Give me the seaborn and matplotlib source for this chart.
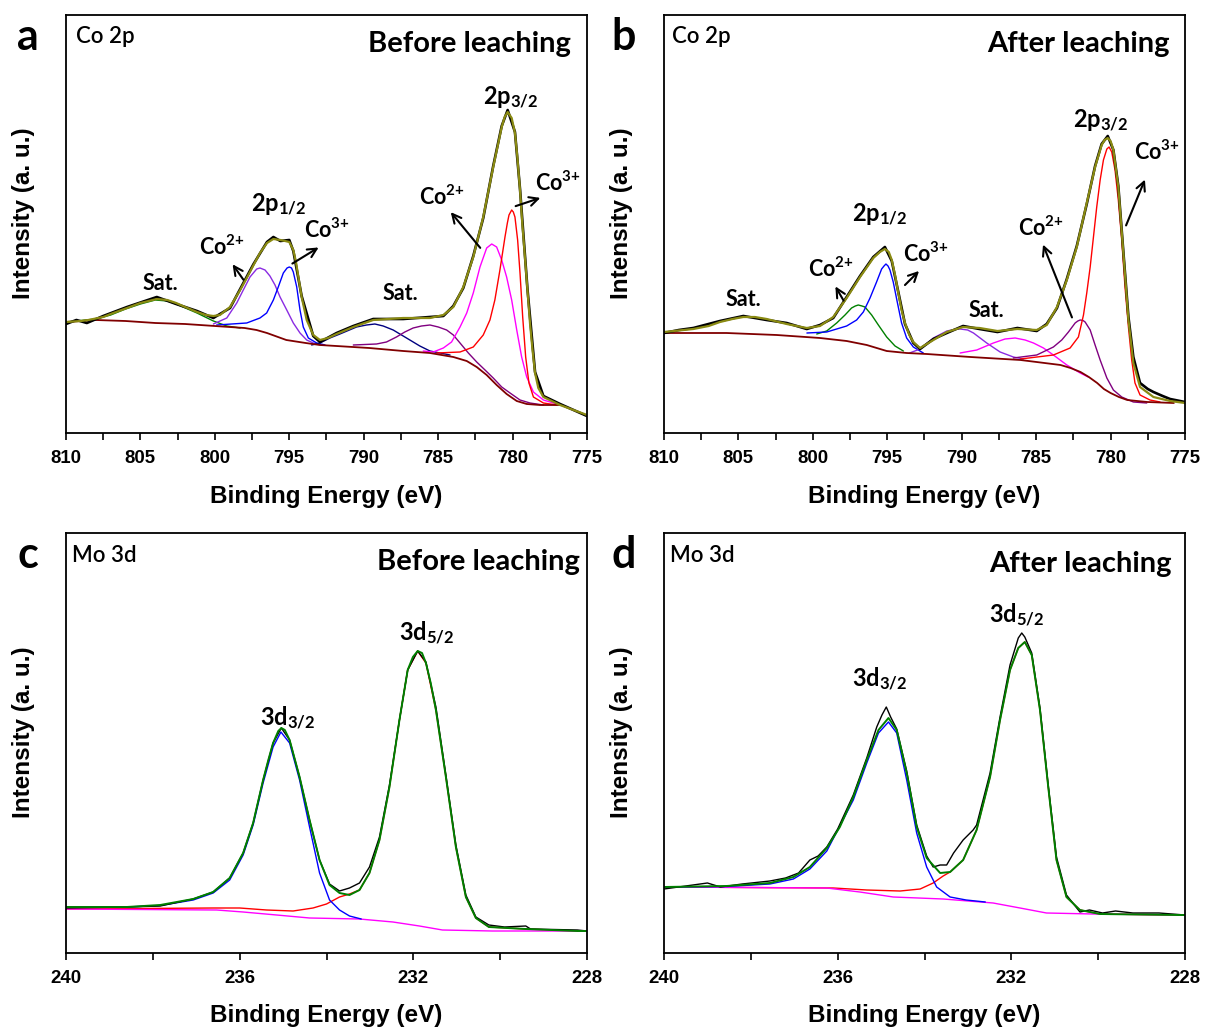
import matplotlib
matplotlib.use("Agg")
import matplotlib.pyplot as plt
import seaborn as sns
from matplotlib.ticker import MultipleLocator

# ================= DATA (arbitrary intensity units) =================
# ---- Panel a : Co 2p, before leaching ----
a_env_E = [810.0, 809.0, 808.5, 807.5, 807.0, 805.9, 805.0, 803.9, 803.2, 802.6, 802.0, 801.2, 800.6, 800.1, 799.66,
           798.98, 798.3, 797.86, 797.4, 796.97, 796.5, 796.07, 795.6, 795.28, 795.0, 794.73, 794.55, 794.39,
           794.17, 793.83, 793.39, 792.94, 792.4, 791.82, 790.7, 789.36, 787.35, 785.55, 784.65, 783.98, 783.31,
           782.64, 781.97, 781.3, 780.73, 780.53, 780.33, 780.06, 779.84, 779.68, 779.5, 779.35, 779.17, 779.0,
           778.83, 778.66, 778.49, 778.27, 777.93, 776.81, 775.0]
a_env_I = [111, 112, 113, 116, 119, 125, 130, 134, 133, 130, 126, 121, 118, 117, 118,
           126, 143, 155, 168, 180, 190, 194, 193, 192, 191, 183, 171, 156,
           136, 113, 98, 93, 95, 99, 106, 113, 115, 115, 118, 126, 146,
           176, 216, 266, 306, 316, 321, 315, 300, 276, 243, 210, 176, 143,
           110, 83, 60, 45, 36, 28, 18]
a_raw_E = [810.0, 809.3, 808.6, 807.5, 805.9, 803.9, 802.6, 801.2, 800.1, 799.66, 798.98, 798.3, 797.4, 796.5,
           796.07, 795.6, 795.0, 794.73, 794.17, 793.39, 792.94, 791.82, 790.7, 789.36, 787.35, 785.55, 784.65,
           783.98, 783.31, 782.64, 781.97, 781.3, 780.73, 780.33, 779.84, 779.5, 779.0, 778.49, 777.93, 776.81, 775.0]
a_raw_I = [109, 113, 110, 117, 126, 136, 129, 122, 115, 119, 125, 144, 169, 191,
           196, 192, 193, 182, 137, 97, 91, 100, 107, 114, 114, 116, 117,
           127, 145, 177, 215, 267, 307, 323, 301, 244, 144, 61, 37, 29, 17]
a_bg_E = [810.0, 808.0, 806.0, 804.0, 802.0, 800.0, 798.0, 797.2, 796.5, 795.2, 793.9, 792.94, 789.63, 787.35,
          785.55, 783.98, 783.08, 782.41, 781.74, 781.07, 780.4, 779.72, 779.05, 778.16, 776.81]
a_bg_I = [111, 113, 112, 110, 109, 107, 105, 103, 100, 93, 90, 88, 85, 82,
          80, 76, 72, 66, 58, 48, 39, 32, 29, 28, 28]
a_sat1_E = [810.0, 808.0, 807.0, 806.0, 805.0, 804.0, 803.2, 802.6, 801.2, 800.1, 799.2, 798.3]
a_sat1_I = [111, 114, 118, 124, 129, 133, 132, 129, 120, 112, 107, 105]
a_co2_12_E = [800.1, 799.2, 798.53, 798.09, 797.64, 797.19, 796.97, 796.63, 796.3, 795.96, 795.62, 795.17, 794.73,
              794.28, 793.83, 793.39, 792.9]
a_co2_12_I = [109, 115, 130, 143, 156, 164, 165, 163, 157, 148, 136, 123, 110, 100, 93, 90, 88]
a_co3_12_E = [799.88, 797.86, 796.97, 796.52, 796.07, 795.74, 795.4, 795.15, 795.0, 794.85, 794.73, 794.5, 794.28,
              794.06, 793.72, 793.16, 792.6]
a_co3_12_I = [108, 110, 115, 120, 133, 146, 160, 165, 166, 165, 161, 146, 123, 106, 95, 90, 88]
a_sat2_E = [793.5, 792.94, 792.27, 791.6, 790.48, 789.81, 789.25, 788.69, 788.02, 787.46, 786.9, 786.23, 785.55,
            784.88, 784.2]
a_sat2_I = [88, 90, 95, 99, 106, 108, 109, 107, 103, 98, 93, 87, 82, 80, 78]
a_sat3_E = [790.7, 789.14, 788.47, 787.8, 787.24, 786.68, 786.12, 785.55, 784.99, 784.43, 783.98, 783.53, 782.97,
            782.41, 781.85, 781.3, 780.73, 780.17, 779.5, 778.83, 777.93]
a_sat3_I = [88, 89, 91, 96, 101, 105, 107, 108, 106, 103, 98, 90, 80, 71, 63, 55, 46, 40, 33, 30, 28]
a_co2_32_E = [786.0, 785.33, 784.65, 784.1, 783.53, 783.08, 782.64, 782.19, 781.74, 781.4, 781.07, 780.73, 780.4,
              780.06, 779.72, 779.39, 779.05, 778.6, 777.93, 777.03]
a_co2_32_I = [82, 81, 85, 91, 106, 120, 140, 166, 185, 189, 186, 173, 156, 133, 103, 76, 56, 41, 33, 29]
a_co3_32_E = [785.1, 783.53, 782.64, 781.97, 781.52, 781.19, 780.85, 780.51, 780.35, 780.24, 780.06, 779.95, 779.84,
              779.66, 779.5, 779.32, 779.12, 778.9, 778.6, 777.93, 777.03]
a_co3_32_I = [80, 81, 86, 98, 113, 133, 163, 196, 210, 218, 223, 221, 216, 193, 160, 116, 76, 50, 36, 30, 28]

# ---- Panel b : Co 2p, after leaching ----
b_env_E = [810.0, 808.03, 807.0, 806.24, 805.4, 804.67, 803.9, 803.1, 801.76, 800.41, 799.52, 798.63, 797.73, 796.83,
           795.94, 795.5, 795.16, 794.9, 794.7, 794.48, 794.26, 794.04, 793.81, 793.52, 793.25, 792.8, 791.9, 791.0,
           789.91, 788.8, 787.6, 786.26, 784.96, 784.29, 783.6, 782.94, 782.27, 781.6, 781.04, 780.6, 780.4,
           780.19, 780.0, 779.81, 779.48, 779.14, 778.8, 778.47, 778.02, 777.12, 776.0, 775.0]
b_env_I = [101, 104, 107, 111, 114, 116, 116, 114, 109, 105, 107, 116, 135, 156,
           175, 181, 184, 181, 173, 158, 140, 123, 110, 98, 91, 85, 93, 101,
           106, 105, 102, 104, 103, 108, 126, 153, 186, 230, 266, 288, 293,
           295, 292, 283, 246, 180, 113, 70, 46, 36, 32, 30]
b_raw_E = [810.0, 809.0, 808.03, 806.24, 804.67, 803.1, 801.76, 800.41, 799.52, 798.63, 797.73, 796.83, 795.94,
           795.16, 794.7, 794.26, 793.81, 793.25, 792.8, 791.9, 791.0, 789.91, 788.8, 787.6, 786.26, 784.96,
           784.29, 783.6, 782.94, 782.27, 781.6, 781.04, 780.6, 780.19, 779.81, 779.48, 779.14, 778.8, 778.47,
           778.02, 777.5, 777.12, 776.5, 776.0, 775.0]
b_raw_I = [100, 103, 105, 112, 117, 113, 110, 104, 108, 115, 136, 157, 176,
           186, 172, 141, 109, 90, 84, 94, 100, 107, 104, 101, 105, 102,
           109, 125, 154, 187, 229, 267, 289, 297, 283, 247, 181, 116, 76,
           50, 44, 41, 37, 34, 31]
b_bg_E = [810.0, 805.8, 802.43, 799.52, 797.73, 796.38, 795.04, 793.7, 792.35, 789.41, 786.05, 783.36, 782.69,
          782.02, 781.46, 780.9, 780.45, 780.0, 779.44, 778.88, 777.54, 775.75]
b_bg_I = [100, 100, 98, 95, 92, 88, 82, 80, 79, 76, 73, 68, 65, 61, 56, 50, 44, 40, 36, 33, 31, 30]
b_co2_12_E = [799.74, 799.07, 798.4, 797.84, 797.4, 797.15, 796.95, 796.7, 796.5, 796.05, 795.6, 795.04, 794.48,
              793.92]
b_co2_12_I = [99, 102, 110, 118, 125, 127, 128, 127, 126, 118, 108, 96, 87, 82]
b_co3_12_E = [800.4, 799.07, 797.73, 797.06, 796.61, 796.16, 795.72, 795.38, 795.22, 795.09, 794.95, 794.82, 794.6,
              794.33, 794.04, 793.7, 793.25, 792.58]
b_co3_12_I = [100, 101, 107, 113, 121, 135, 151, 164, 167, 169, 167, 163, 151, 131, 110, 95, 86, 80]
b_sat1_E = [793.5, 792.8, 791.9, 791.0, 790.5, 790.11, 789.6, 789.21, 788.32, 787.42, 786.53, 785.86]
b_sat1_I = [80, 84, 95, 102, 103.5, 104, 103, 100, 90, 81, 76, 74]
b_sat2_E = [790.11, 788.99, 787.87, 787.09, 786.41, 785.74, 785.18, 784.51, 783.84, 782.94, 782.04, 781.5]
b_sat2_I = [80, 83, 90, 94, 95, 93, 90, 85, 78, 68, 60, 56]
b_co2_32_E = [786.53, 784.96, 783.84, 783.28, 782.83, 782.38, 782.2, 782.04, 781.85, 781.71, 781.37, 781.04, 780.7,
              780.25, 779.81, 779.25, 778.47, 777.57]
b_co2_32_I = [75, 78, 86, 93, 101, 110, 112, 113, 112.5, 111, 103, 88, 73, 55, 43, 36, 31, 30]
b_co3_32_E = [786.05, 783.84, 782.72, 782.16, 781.82, 781.6, 781.37, 781.15, 780.93, 780.7, 780.48, 780.25, 780.1,
              779.92, 779.7, 779.48, 779.25, 779.03, 778.8, 778.58, 778.36, 778.02, 777.35, 776.68]
b_co3_32_I = [74, 78, 85, 96, 118, 140, 166, 196, 226, 253, 273, 284, 286, 281, 263, 233, 193, 146, 106, 73, 50,
              38, 33, 31]

# ---- Panel c : Mo 3d, before leaching ----
c_env_E = [240.0, 238.6, 237.83, 237.07, 236.61, 236.23, 235.92, 235.69, 235.46, 235.34, 235.23, 235.11, 235.04,
           234.96, 234.85, 234.62, 234.39, 234.16, 233.93, 233.7, 233.47, 233.24, 233.01, 232.78, 232.55, 232.32,
           232.13, 232.01, 231.9, 231.8, 231.71, 231.6, 231.48, 231.25, 231.02, 230.79, 230.56, 230.26, 229.41,
           228.22, 228.0]
c_env_I = [46, 46, 48, 54, 61, 75, 100, 130, 173, 193, 210, 222, 225, 223, 213, 176, 133, 93, 68, 60, 58, 63, 80,
           113, 166, 233, 283, 296, 302, 300, 290, 270, 243, 176, 106, 56, 35, 26, 24, 22, 22]
c_raw_E = [240.0, 238.6, 237.83, 237.07, 236.61, 236.23, 235.92, 235.69, 235.46, 235.23, 235.04, 234.85, 234.62,
           234.39, 234.16, 233.93, 233.7, 233.47, 233.24, 233.01, 232.78, 232.55, 232.32, 232.13, 231.9, 231.71,
           231.48, 231.25, 231.02, 230.79, 230.56, 230.26, 229.9, 229.41, 229.3, 228.22, 228.0]
c_raw_I = [45, 46, 47, 54, 61, 75, 100, 130, 173, 210, 225, 213, 176, 133, 93, 69, 62, 65, 70, 86, 116, 168, 233,
           283, 302, 291, 246, 178, 108, 58, 36, 28, 26, 27, 24, 23, 22]
c_32_E = [240.0, 238.6, 237.83, 237.07, 236.61, 236.23, 235.92, 235.69, 235.46, 235.23, 235.05, 234.85, 234.62,
          234.39, 234.16, 233.93, 233.7, 233.47, 233.2]
c_32_I = [46, 46, 47.5, 53, 60, 73, 98, 128, 170, 206, 221, 210, 173, 126, 80, 53, 43, 37, 34]
c_52_E = [240.0, 236.61, 236.0, 235.38, 234.77, 234.31, 234.0, 233.7, 233.47, 233.24, 233.01, 232.78, 232.55,
          232.32, 232.13, 231.9, 231.71, 231.48, 231.25, 231.02, 230.79, 230.56, 230.26, 229.41, 228.22]
c_52_I = [44, 45, 45, 43, 42, 45, 49, 56, 59, 63, 80, 113, 166, 233, 283, 302, 290, 243, 176, 106, 56, 35, 26, 24,
          22]
c_bg_E = [240.0, 236.53, 235.92, 235.15, 234.39, 233.24, 232.47, 231.86, 231.33, 230.18, 228.0]
c_bg_I = [44, 43, 41, 38, 35, 34, 31, 27, 23, 22, 22]

# ---- Panel d : Mo 3d, after leaching ----
d_env_E = [240.0, 238.56, 237.56, 237.02, 236.64, 236.25, 235.95, 235.64, 235.33, 235.06, 234.83, 234.64, 234.41,
           234.18, 233.95, 233.64, 233.41, 233.11, 232.8, 232.49, 232.26, 232.03, 231.84, 231.69, 231.53, 231.34,
           231.15, 230.96, 230.73, 230.42, 229.96, 228.15, 228.0]
d_env_I = [66, 67, 70, 76, 86, 105, 126, 156, 193, 223, 235, 223, 180, 126, 95, 80, 81, 93, 123, 176, 233, 283,
           305, 311, 298, 243, 166, 93, 56, 43, 39, 38, 38]
d_raw_E = [240.0, 239.5, 239.0, 238.7, 238.2, 237.56, 237.2, 236.9, 236.64, 236.45, 236.25, 236.0, 235.64, 235.33,
           235.1, 234.98, 234.88, 234.78, 234.64, 234.41, 234.18, 233.95, 233.8, 233.64, 233.49, 233.33, 233.11,
           232.88, 232.8, 232.49, 232.26, 232.03, 231.84, 231.76, 231.69, 231.53, 231.34, 231.15, 230.96, 230.73,
           230.42, 230.2, 229.9, 229.6, 229.2, 228.6, 228.0]
d_raw_I = [64, 67, 70, 66, 69, 72, 75, 80, 93, 97, 106, 124, 158, 195, 226, 238, 246, 236, 224, 182, 128, 97, 86,
           88, 88, 100, 113, 123, 128, 180, 236, 288, 315, 320, 316, 300, 245, 168, 96, 58, 41, 43, 40, 42, 40,
           40, 38]
d_32_E = [240.0, 238.56, 237.56, 237.02, 236.64, 236.25, 235.64, 235.33, 235.06, 234.83, 234.64, 234.41, 234.18,
          233.95, 233.72, 233.41, 233.04, 232.6]
d_32_I = [66, 66.5, 69, 74, 84, 102, 153, 190, 220, 231, 220, 173, 120, 86, 66, 56, 53, 51]
d_52_E = [240.0, 236.1, 235.33, 234.56, 234.1, 233.8, 233.57, 233.41, 233.11, 232.8, 232.49, 232.26, 232.03,
          231.84, 231.69, 231.53, 231.34, 231.15, 230.96, 230.73, 230.42, 229.96, 228.15]
d_52_I = [66, 65, 63, 62, 64, 70, 77, 81, 93, 123, 176, 233, 283, 305, 311, 298, 243, 166, 93, 56, 43, 39, 38]
d_bg_E = [240.0, 236.25, 235.49, 234.72, 233.57, 232.42, 231.8, 231.19, 230.11, 228.0]
d_bg_I = [66, 65, 61, 56, 54, 50, 45, 40, 39, 38]

co_ticks = [810, 805, 800, 795, 790, 785, 780, 775]
mo_ticks = [240, 236, 232, 228]

# ================= STYLE =================
sns.set_theme(style="ticks")
plt.rcParams['font.family'] = ['Liberation Sans', 'DejaVu Sans']
plt.rcParams['mathtext.default'] = 'regular'
plt.rcParams['axes.linewidth'] = 1.3

OLIVE = '#8a8a12'
MAROON = '#800000'
ANN = ['Lato', 'DejaVu Sans']

W, H = 1205, 1029
fig = plt.figure(figsize=(W / 100, H / 100), dpi=100)


def make_ax(left, top, bottom):
    return fig.add_axes([left / W, 1 - bottom / H, 521 / W, (bottom - top) / H])


ax_a = make_ax(66, 15, 433)
ax_b = make_ax(664, 15, 433)
ax_c = make_ax(66, 533, 953)
ax_d = make_ax(664, 533, 953)


def curve(ax, E, I, color, lw=1.0):
    sns.lineplot(x=E, y=I, ax=ax, color=color, linewidth=lw, estimator=None, sort=False)


def style_ax(ax, xlim, ylim, minor, ticks, ypos):
    ax.set_xlim(*xlim)
    ax.set_ylim(*ylim)
    ax.set_yticks([])
    ax.set_xticks(ticks)
    ax.xaxis.set_minor_locator(MultipleLocator(minor))
    ax.tick_params(axis='x', which='both', direction='out', length=5, width=1.2, pad=7,
                   labelsize=13.4, colors='black')
    for lab in ax.get_xticklabels():
        lab.set_fontweight('bold')
    for sp in ax.spines.values():
        sp.set_visible(True)
        sp.set_color('black')
        sp.set_linewidth(1.3)
    ax.set_xlabel('Binding Energy (eV)', fontsize=17.5, fontweight='bold', color='black')
    ax.xaxis.set_label_coords(0.5, ypos)
    ax.xaxis.label.set_va('center')
    ax.set_ylabel('Intensity (a. u.)', fontsize=17.5, fontweight='bold', color='black')
    ax.yaxis.set_label_coords(-0.0825, 0.525)
    ax.yaxis.label.set_va('center')


# ---- panel a ----
for E, I, c in [(a_sat1_E, a_sat1_I, 'green'), (a_co2_12_E, a_co2_12_I, '#8a2be2'),
                (a_co3_12_E, a_co3_12_I, 'blue'), (a_sat2_E, a_sat2_I, '#000080'),
                (a_sat3_E, a_sat3_I, '#800080'), (a_co2_32_E, a_co2_32_I, '#ff00ff'),
                (a_co3_32_E, a_co3_32_I, 'red')]:
    curve(ax_a, E, I, c, 1.0)
curve(ax_a, a_bg_E, a_bg_I, MAROON, 1.3)
curve(ax_a, a_raw_E, a_raw_I, 'black', 1.9)
curve(ax_a, a_env_E, a_env_I, OLIVE, 1.6)
style_ax(ax_a, (810, 775), (0, 418), 2.5, co_ticks, -0.153)

# ---- panel b ----
for E, I, c in [(b_co2_12_E, b_co2_12_I, 'green'), (b_co3_12_E, b_co3_12_I, 'blue'),
                (b_sat1_E, b_sat1_I, '#8a2be2'), (b_sat2_E, b_sat2_I, '#ff00ff'),
                (b_co2_32_E, b_co2_32_I, '#800080'), (b_co3_32_E, b_co3_32_I, 'red')]:
    curve(ax_b, E, I, c, 1.0)
curve(ax_b, b_bg_E, b_bg_I, MAROON, 1.3)
curve(ax_b, b_raw_E, b_raw_I, 'black', 1.9)
curve(ax_b, b_env_E, b_env_I, OLIVE, 1.6)
style_ax(ax_b, (810, 775), (0, 418), 2.5, co_ticks, -0.153)

# ---- panel c ----
curve(ax_c, c_52_E, c_52_I, 'red', 1.0)
curve(ax_c, c_bg_E, c_bg_I, '#ff00ff', 1.0)
curve(ax_c, c_32_E, c_32_I, 'blue', 1.0)
curve(ax_c, c_raw_E, c_raw_I, 'black', 1.0)
curve(ax_c, c_env_E, c_env_I, 'green', 1.4)
style_ax(ax_c, (240, 228), (0, 420), 2, mo_ticks, -0.149)

# ---- panel d ----
curve(ax_d, d_52_E, d_52_I, 'red', 1.0)
curve(ax_d, d_bg_E, d_bg_I, '#ff00ff', 1.0)
curve(ax_d, d_32_E, d_32_I, 'blue', 1.0)
curve(ax_d, d_raw_E, d_raw_I, 'black', 1.0)
curve(ax_d, d_env_E, d_env_I, 'green', 1.4)
style_ax(ax_d, (240, 228), (0, 420), 2, mo_ticks, -0.149)


# ================= TEXT =================
def ftext(x, y, s, size, ha='center', weight='bold', family=ANN):
    fig.text(x / W, 1 - y / H, s, ha=ha, va='baseline', fontsize=size, fontweight=weight,
             family=family, color='black')


def arrow(tx, ty, hx, hy):
    fig.add_artist(matplotlib.patches.FancyArrowPatch(
        (tx / W, 1 - ty / H), (hx / W, 1 - hy / H), transform=fig.transFigure,
        arrowstyle='->', mutation_scale=16, lw=1.5, color='black'))


CO2 = 'Co$^{2{+}}$'
CO3 = 'Co$^{3{+}}$'

for x, y, s in [(28, 50, 'a'), (624, 50, 'b'), (28, 568, 'c'), (624, 568, 'd')]:
    ftext(x, y, s, 31)
ftext(76, 43, 'Co 2p', 16, ha='left', weight=600)
ftext(672, 43, 'Co 2p', 16, ha='left', weight=600)
ftext(72, 562, 'Mo 3d', 16, ha='left', weight=600)
ftext(670, 562, 'Mo 3d', 16, ha='left', weight=600)
ftext(571, 52, 'Before leaching', 21, ha='right')
ftext(1170, 52, 'After leaching', 21, ha='right')
ftext(580, 570, 'Before leaching', 21, ha='right')
ftext(1172, 572, 'After leaching', 21, ha='right')

# panel a labels
ftext(160, 290, 'Sat.', 15.5)
ftext(222, 255, CO2, 15.5)
ftext(279, 212, '2p$_{1/2}$', 17)
ftext(327, 238, CO3, 15.5)
ftext(400, 300, 'Sat.', 15.5)
ftext(442, 205, CO2, 15.5)
ftext(511, 105, '2p$_{3/2}$', 17)
ftext(558, 191, CO3, 15.5)
arrow(245, 282, 231, 262)
arrow(290, 265, 321, 246)
arrow(482, 250, 449, 210)
arrow(513, 207, 543, 197)

# panel b labels
ftext(743, 306, 'Sat.', 15.5)
ftext(831, 277, CO2, 15.5)
ftext(880, 222, '2p$_{1/2}$', 17)
ftext(926, 262, CO3, 15.5)
ftext(986, 317, 'Sat.', 15.5)
ftext(1041, 236, CO2, 15.5)
ftext(1101, 128, '2p$_{3/2}$', 17)
ftext(1157, 160, CO3, 15.5)
arrow(845, 303, 834, 284)
arrow(903, 287, 921, 269)
arrow(1073, 320, 1042, 242)
arrow(1125, 228, 1146, 177)

# panel c / d labels
ftext(288, 726, '3d$_{3/2}$', 17)
ftext(427, 641, '3d$_{5/2}$', 17)
ftext(880, 687, '3d$_{3/2}$', 17)
ftext(1017, 623, '3d$_{5/2}$', 17)

fig.savefig('out.png', dpi=100)
